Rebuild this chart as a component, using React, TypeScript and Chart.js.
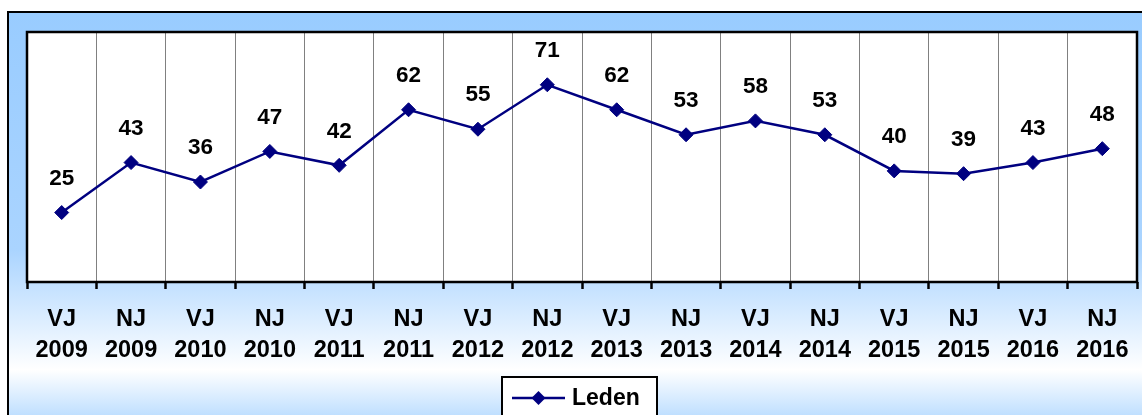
import { useEffect, useRef } from 'react';
import { Chart, registerables } from 'chart.js';

Chart.register(...registerables);

const halves = ['VJ', 'NJ', 'VJ', 'NJ', 'VJ', 'NJ', 'VJ', 'NJ', 'VJ', 'NJ', 'VJ', 'NJ', 'VJ', 'NJ', 'VJ', 'NJ'];
const years = ['2009', '2009', '2010', '2010', '2011', '2011', '2012', '2012', '2013', '2013', '2014', '2014', '2015', '2015', '2016', '2016'];
const leden = [25, 43, 36, 47, 42, 62, 55, 71, 62, 53, 58, 53, 40, 39, 43, 48];
const seriesLabel = 'Leden';

const W = 1146;
const H = 430;
const FONT = 'Arial, "Liberation Sans", sans-serif';
const NAVY = '#000080';

const plotBg = {
  id: 'plotBg',
  beforeDraw(chart: any) {
    const { ctx, chartArea: a } = chart;
    ctx.save();
    ctx.fillStyle = '#ffffff';
    ctx.fillRect(a.left, a.top, a.right - a.left, a.bottom - a.top);
    ctx.restore();
  },
  beforeDatasetsDraw(chart: any) {
    const { ctx, chartArea: a } = chart;
    ctx.save();
    ctx.strokeStyle = '#000000';
    ctx.lineWidth = 2.5;
    ctx.strokeRect(a.left, a.top, a.right - a.left, a.bottom - a.top);
    ctx.restore();
  },
};

const dataLabels = {
  id: 'dataLabels',
  afterDatasetsDraw(chart: any) {
    const { ctx } = chart;
    const meta = chart.getDatasetMeta(0);
    const vals = chart.data.datasets[0].data;
    ctx.save();
    ctx.font = `bold 22.5px ${FONT}`;
    ctx.fillStyle = '#000000';
    ctx.textAlign = 'center';
    ctx.textBaseline = 'middle';
    meta.data.forEach((pt: any, i: number) => {
      ctx.fillText(String(vals[i]), pt.x, pt.y - 34);
    });
    ctx.restore();
  },
};

const legendBox = {
  id: 'legendBox',
  afterDraw(chart: any) {
    const { ctx } = chart;
    const ds = chart.data.datasets[0];
    const bx = 493, by = 364, bw = 155, bh = 46;
    ctx.save();
    ctx.fillStyle = '#ffffff';
    ctx.fillRect(bx, by, bw, bh);
    ctx.strokeStyle = '#000000';
    ctx.lineWidth = 2;
    ctx.strokeRect(bx, by, bw, bh);
    const cy = 385;
    ctx.strokeStyle = ds.borderColor;
    ctx.lineWidth = 2.5;
    ctx.beginPath();
    ctx.moveTo(503, cy);
    ctx.lineTo(556, cy);
    ctx.stroke();
    ctx.fillStyle = ds.pointBackgroundColor;
    const r = 7;
    const mx = 529.5;
    ctx.beginPath();
    ctx.moveTo(mx, cy - r);
    ctx.lineTo(mx + r, cy);
    ctx.lineTo(mx, cy + r);
    ctx.lineTo(mx - r, cy);
    ctx.closePath();
    ctx.fill();
    ctx.fillStyle = '#000000';
    ctx.font = `bold 23px ${FONT}`;
    ctx.textAlign = 'left';
    ctx.textBaseline = 'middle';
    ctx.fillText(ds.label, 563, cy + 1);
    ctx.restore();
  },
};

export default function App() {
  const ref = useRef<HTMLCanvasElement | null>(null);

  useEffect(() => {
    if (!ref.current) return;
    const labels = halves.map((h, i) => [h, years[i]]);
    const chart = new Chart(ref.current, {
      type: 'line',
      data: {
        labels,
        datasets: [
          {
            label: seriesLabel,
            data: leden,
            borderColor: NAVY,
            backgroundColor: NAVY,
            pointBackgroundColor: NAVY,
            pointBorderColor: NAVY,
            borderWidth: 2.5,
            pointStyle: 'rectRot',
            pointRadius: 7,
            pointBorderWidth: 1,
            tension: 0,
            fill: false,
          },
        ],
      },
      options: {
        responsive: false,
        animation: false,
        maintainAspectRatio: false,
        layout: { padding: { left: 18, top: 19, right: 18, bottom: 0 } },
        plugins: {
          legend: { display: false },
          tooltip: { enabled: false },
        },
        scales: {
          x: {
            offset: true,
            grid: {
              offset: true,
              color: '#808080',
              lineWidth: 1,
              borderDash: [1, 1],
              drawTicks: true,
              tickLength: 7,
              tickColor: '#000000',
              tickWidth: 2.5,
              tickBorderDash: [],
            },
            border: { display: false },
            ticks: {
              color: '#000000',
              padding: 15,
              maxRotation: 0,
              autoSkip: false,
              font: { family: FONT, size: 23.5, weight: 'bold', lineHeight: 1.33 },
            },
            afterFit(scale: any) {
              scale.height = H - 269;
            },
          },
          y: {
            display: false,
            min: 0,
            max: 90,
          },
        },
      },
      plugins: [plotBg, dataLabels, legendBox],
    } as any);
    return () => chart.destroy();
  }, []);

  return (
    <div
      style={{
        position: 'absolute',
        left: 7,
        top: 11,
        width: W + 4,
        height: H + 4,
        boxSizing: 'border-box',
        border: '2px solid #000',
        background: 'linear-gradient(to bottom, #99ccff 0%, #aad4ff 55%, #ffffff 83%, #99ccff 100%)',
      }}
    >
      <canvas ref={ref} width={W} height={H} style={{ display: 'block', width: W, height: H }} />
    </div>
  );
}
